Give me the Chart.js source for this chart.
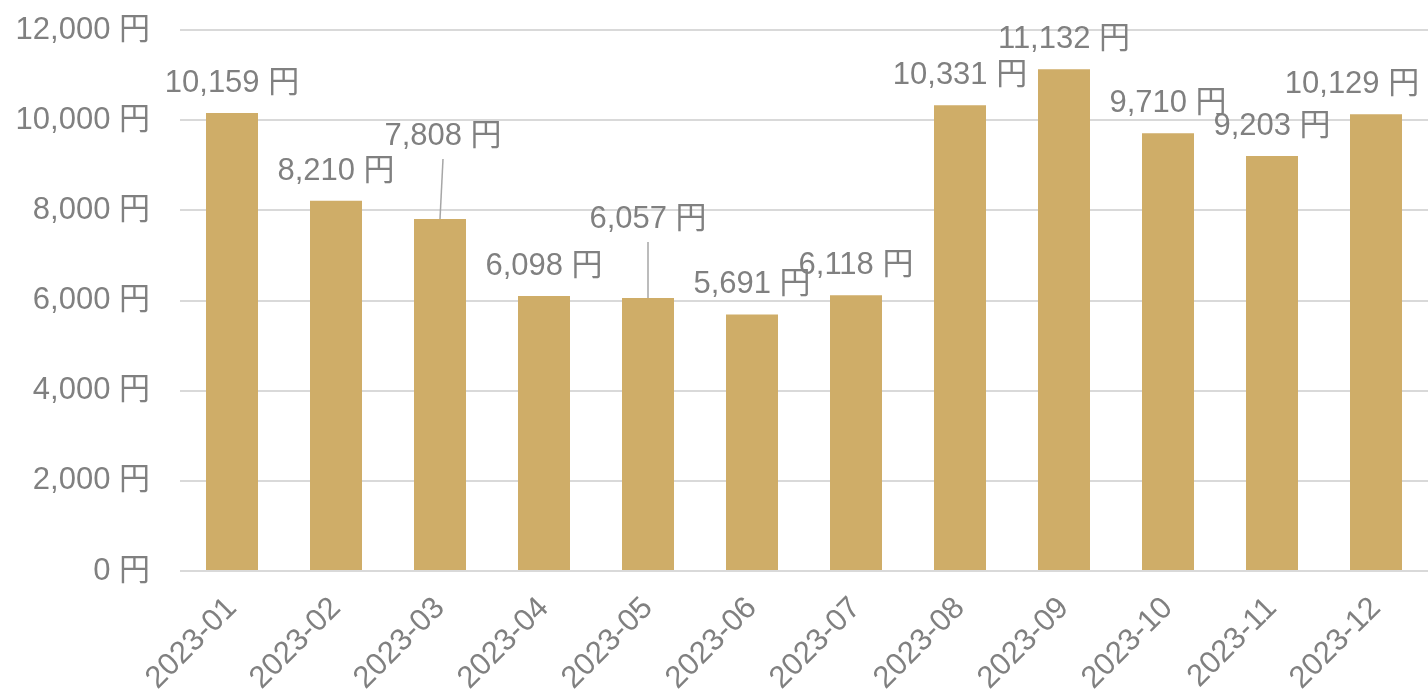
<!DOCTYPE html>
<html>
<head>
<meta charset="utf-8">
<script src="https://cdn.jsdelivr.net/npm/chart.js@4.4.0/dist/chart.umd.min.js"></script>
<style>
  body { margin: 0; background: #fff; }
  #wrap { width: 1428px; height: 693px; }
</style>
</head>
<body>
<div id="wrap"><canvas id="salesChart" width="1428" height="693"></canvas></div>
<script>
const months = ["2023-01", "2023-02", "2023-03", "2023-04", "2023-05", "2023-06", "2023-07", "2023-08", "2023-09", "2023-10", "2023-11", "2023-12"];
const amounts = [10159, 8210, 7808, 6098, 6057, 5691, 6118, 10331, 11132, 9710, 9203, 10129];
const yTicks = [0, 2000, 4000, 6000, 8000, 10000, 12000];

const fontFamily = '"Liberation Sans", Arial, "Noto Sans CJK JP", sans-serif';
const textGray = '#808080';

function yen(v) {
    return v.toLocaleString('en-US') + ' 円';
}

// labels that were moved by hand in the original, in pixels
const labelShift = {
    2: { dx: 3, dy: -53, leader: true },
    4: { dx: 0, dy: -49, leader: true },
    11: { dx: -24, dy: 0 }
};

const barLabels = {
    id: 'barLabels',
    afterDatasetsDraw(chart) {
        const ctx = chart.ctx;
        const meta = chart.getDatasetMeta(0);
        ctx.save();
        ctx.font = '31px ' + fontFamily;
        ctx.textAlign = 'center';
        ctx.textBaseline = 'alphabetic';
        meta.data.forEach(function(bar, i) {
            const s = labelShift[i] || { dx: 0, dy: 0 };
            const x = bar.x + s.dx;
            const y = bar.y - 21 + s.dy;
            if (s.leader) {
                ctx.strokeStyle = '#a6a6a6';
                ctx.lineWidth = 1.5;
                ctx.beginPath();
                ctx.moveTo(bar.x, bar.y);
                ctx.lineTo(x, y + 14);
                ctx.stroke();
            }
            ctx.fillStyle = textGray;
            ctx.fillText(yen(amounts[i]), x, y);
        });
        ctx.restore();
    }
};

const ctx = document.getElementById('salesChart').getContext('2d');

new Chart(ctx, {
    type: 'bar',
    data: {
        labels: months,
        datasets: [{
            label: '金額',
            data: amounts,
            backgroundColor: '#cfad68',
            barPercentage: 0.5,
            categoryPercentage: 1.0
        }]
    },
    options: {
        responsive: false,
        animation: false,
        devicePixelRatio: 1,
        layout: { padding: { top: 30, right: 0, left: 0, bottom: 0 } },
        plugins: {
            legend: { display: false },
            tooltip: { enabled: false }
        },
        scales: {
            x: {
                afterFit(scale) {
                    scale.height = 122;
                    scale.paddingLeft = 0;
                    scale.paddingRight = 0;
                },
                grid: { display: false },
                border: { display: false },
                ticks: {
                    color: textGray,
                    font: { family: fontFamily, size: 31 },
                    maxRotation: 45,
                    minRotation: 45,
                    padding: 11
                }
            },
            y: {
                min: 0,
                max: 12000,
                afterBuildTicks(scale) {
                    scale.ticks = yTicks.map(function(v) { return { value: v }; });
                },
                afterFit(scale) {
                    scale.width = 180;
                    scale.paddingTop = 0;
                    scale.paddingBottom = 0;
                },
                grid: { color: '#d9d9d9', lineWidth: 2, drawTicks: false },
                border: { display: false },
                ticks: {
                    color: textGray,
                    font: { family: fontFamily, size: 31 },
                    padding: 30,
                    callback: function(v) { return yen(v); }
                }
            }
        }
    },
    plugins: [barLabels]
});
</script>
</body>
</html>
